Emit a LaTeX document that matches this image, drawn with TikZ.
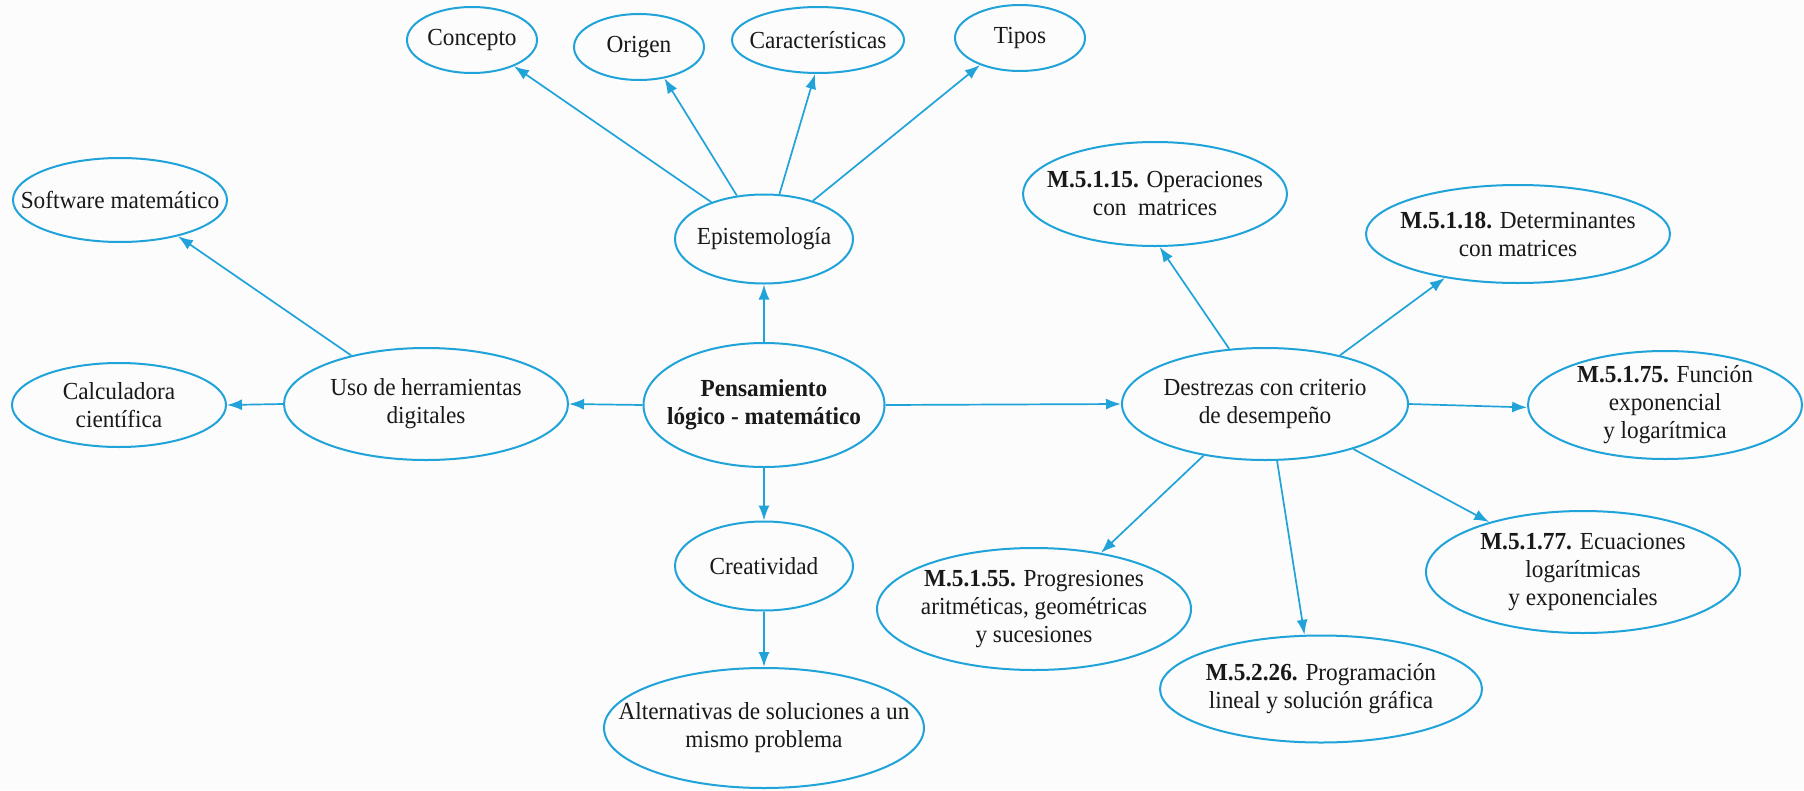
\documentclass[tikz,border=0pt]{standalone}
\usepackage{fontspec}
\setmainfont{Liberation Serif}[FakeStretch=0.95]
\usetikzlibrary{shapes.geometric,arrows.meta}
\definecolor{cblue}{RGB}{32,163,217}
\definecolor{bgc}{RGB}{252,252,252}
\tikzset{
  bub/.style 2 args={ellipse, draw=cblue, line width=2pt, minimum width=#1, minimum height=#2, inner sep=0pt},
  lbl/.style={font=\fontsize{24.5}{28}\selectfont, align=center, inner sep=0pt, text=black!90},
  arr/.style={draw=cblue, line width=1.7pt, -{Latex[length=15pt,width=11pt]}}
}
\begin{document}
\begin{tikzpicture}[x=1pt,y=-1pt]
\fill[bgc] (0,0) rectangle (1804,790);
\useasboundingbox (0,0) rectangle (1804,790);
% top
\node[bub={130pt}{66pt}, label={[lbl]center:{Concepto}}] (concepto) at (472,40) {};
\node[bub={130pt}{66pt}, label={[lbl]center:{Origen}}] (origen) at (639,47) {};
\node[bub={172pt}{66pt}, label={[lbl]center:{Características}}] (caract) at (818,40) {};
\node[bub={130pt}{66pt}, label={[lbl]center:{Tipos}}] (tipos) at (1020,38) {};
\node[bub={178pt}{89pt}, label={[lbl]center:{Epistemología}}] (epist) at (764,239) {};
% left
\node[bub={214pt}{84pt}, label={[lbl]center:{Software matemático}}] (soft) at (120,200) {};
\node[bub={214pt}{84pt}, label={[lbl]center:{Calculadora\\científica}}] (calc) at (119,405) {};
\node[bub={284pt}{112pt}, label={[lbl]center:{Uso de herramientas\\digitales}}] (uso) at (426,404) {};
% center
\node[bub={241pt}{124pt}, label={[lbl]center:{\textbf{Pensamiento}\\\textbf{lógico - matemático}}}] (pens) at (764,405) {};
\node[bub={178pt}{89pt}, label={[lbl]center:{Creatividad}}] (creat) at (764,566) {};
\node[bub={320pt}{120pt}, label={[lbl]center:{Alternativas de soluciones a un\\mismo problema}}] (alt) at (764,728) {};
% right
\node[bub={286pt}{112pt}, label={[lbl]center:{Destrezas con criterio\\de desempeño}}] (destr) at (1265,404) {};
\node[bub={264pt}{104pt}, label={[lbl]center:{\textbf{M.5.1.15.} Operaciones\\con\ \ matrices}}] (m15) at (1155,194) {};
\node[bub={304pt}{98pt}, label={[lbl]center:{\textbf{M.5.1.18.} Determinantes\\con matrices}}] (m18) at (1518,234) {};
\node[bub={274pt}{108pt}, label={[lbl]center:{\textbf{M.5.1.75.} Función\\exponencial\\y logarítmica}}] (m75) at (1665,405) {};
\node[bub={314pt}{122pt}, label={[lbl]center:{\textbf{M.5.1.55.} Progresiones\\aritméticas, geométricas\\y sucesiones}}] (m55) at (1034,609) {};
\node[bub={322pt}{107pt}, label={[lbl]center:{\textbf{M.5.2.26.} Programación\\lineal y solución gráfica}}] (m226) at (1321,689) {};
\node[bub={314pt}{122pt}, label={[lbl]center:{\textbf{M.5.1.77.} Ecuaciones\\logarítmicas\\y exponenciales}}] (m77) at (1583,572) {};
% connectors
\draw[arr] (epist.145.6) -- (concepto.-32.7);
\draw[arr] (epist.122.5) -- (origen.-51.1);
\draw[arr] (epist.71.9) -- (caract.-95);
\draw[arr] (epist.38.5) -- (tipos.214.6);
\draw[arr] (pens.north) -- (epist.south);
\draw[arr] (pens.west) -- (uso.east);
\draw[arr] (uso.west) -- (calc.east);
\draw[arr] (uso.147.7) -- (soft.-32.1);
\draw[arr] (pens.south) -- (creat.north);
\draw[arr] (creat.south) -- (alt.north);
\draw[arr] (pens.east) -- (destr.west);
\draw[arr] (destr.123.7) -- (m15.-85.7);
\draw[arr] (destr.33.3) -- (m18.211.6);
\draw[arr] (destr.0) -- (m75.181);
\draw[arr] (destr.220.9) -- (m55.40.7);
\draw[arr] (destr.-78.9) -- (m226.107.5);
\draw[arr] (destr.-27.9) -- (m77.152.7);
\end{tikzpicture}
\end{document}
